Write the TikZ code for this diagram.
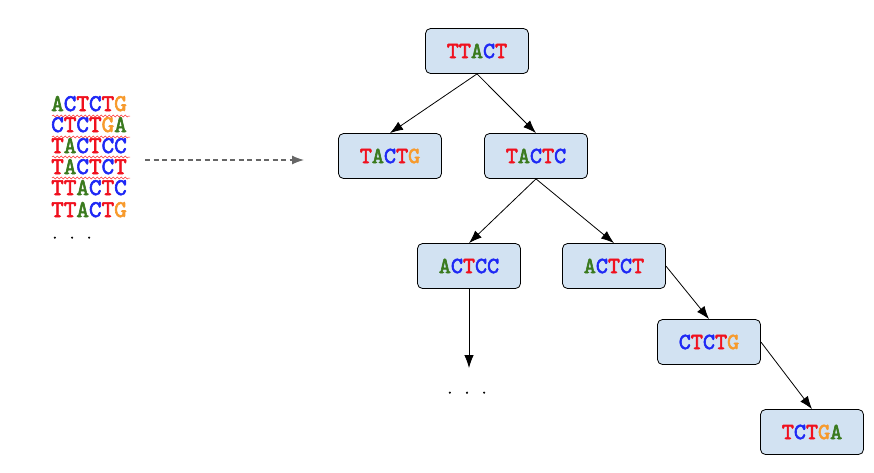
\documentclass[tikz,border=0pt]{standalone}
\usepackage{fontspec}
\newfontfamily\seqfont{lmmono10-regular.otf}[FakeBold=2.5]
\usetikzlibrary{arrows.meta,decorations.pathmorphing}
\definecolor{nT}{HTML}{F0101E}
\definecolor{nA}{HTML}{3A7A1E}
\definecolor{nC}{HTML}{1E28F5}
\definecolor{nG}{HTML}{F79A2C}
\definecolor{boxfill}{HTML}{D2E2F2}
\definecolor{dashgray}{HTML}{666666}
\newcommand{\xT}{{\color{nT}T}}
\newcommand{\xA}{{\color{nA}A}}
\newcommand{\xC}{{\color{nC}C}}
\newcommand{\xG}{{\color{nG}G}}
\begin{document}
\begin{tikzpicture}[x=1pt,y=-1pt,
  seqbox/.style={draw=black,line width=0.8pt,fill=boxfill,rounded corners=5pt,
    minimum width=103pt,minimum height=45pt,inner sep=0pt,
    font=\seqfont\fontsize{23}{26}\selectfont},
  seqline/.style={anchor=west,inner sep=0pt,text height=14pt,text depth=0pt,
    font=\seqfont\fontsize{24}{26}\selectfont},
  dotsnode/.style={inner sep=0pt,text height=3pt,text depth=0pt,font=\seqfont\fontsize{14}{15}\selectfont},
  edge/.style={draw=black,line width=0.8pt,-{Latex[length=13pt,width=9.5pt]}},
  squiggle/.style={draw=red!80,line width=0.5pt,decorate,decoration={snake,amplitude=1pt,segment length=4pt}}
]
\useasboundingbox (0,0) rectangle (874,472);

% left list
\node[seqline] (s1) at (51,104) {\xA\xC\xT\xC\xT\xG};
\node[seqline] (s2) at (51,125) {\xC\xT\xC\xT\xG\xA};
\node[seqline] (s3) at (51,146) {\xT\xA\xC\xT\xC\xC};
\node[seqline] (s4) at (51,167) {\xT\xA\xC\xT\xC\xT};
\node[seqline] (s5) at (51,188) {\xT\xT\xA\xC\xT\xC};
\node[seqline] (s6) at (51,210) {\xT\xT\xA\xC\xT\xG};
\node[dotsnode,anchor=west] (d1) at (51,237) {. . .};

\draw[squiggle] (52,116) -- (130,116);
\draw[squiggle] (52,137) -- (130,137);
\draw[squiggle] (52,157) -- (130,157);
\draw[squiggle] (52,178) -- (130,178);

\coordinate (da) at (145,160);
\coordinate (db) at (304,160);
\draw[dashgray,line width=1.2pt,dash pattern=on 5pt off 3.5pt,-{Latex[length=12pt,width=9pt]}] (da) -- (db);

% tree
\node[seqbox] (n1) at (477,51) {\xT\xT\xA\xC\xT};
\node[seqbox] (n2) at (390,156) {\xT\xA\xC\xT\xG};
\node[seqbox] (n3) at (536,156) {\xT\xA\xC\xT\xC};
\node[seqbox] (n4) at (469,266) {\xA\xC\xT\xC\xC};
\node[seqbox] (n5) at (614,266) {\xA\xC\xT\xC\xT};
\node[seqbox] (n6) at (709,342) {\xC\xT\xC\xT\xG};
\node[seqbox] (n7) at (812,432) {\xT\xC\xT\xG\xA};
\node[dotsnode] (d2) at (467,392) {. . .};
\coordinate (d2top) at (469,368);

\draw[edge] (n1.south) -- (n2.north);
\draw[edge] (n1.south) -- (n3.north);
\draw[edge] (n3.south) -- (n4.north);
\draw[edge] (n3.south) -- (n5.north);
\draw[edge] (n4.south) -- (d2top);
\draw[edge] (n5.east) -- (n6.north);
\draw[edge] (n6.east) -- (n7.north);
\end{tikzpicture}
\end{document}
